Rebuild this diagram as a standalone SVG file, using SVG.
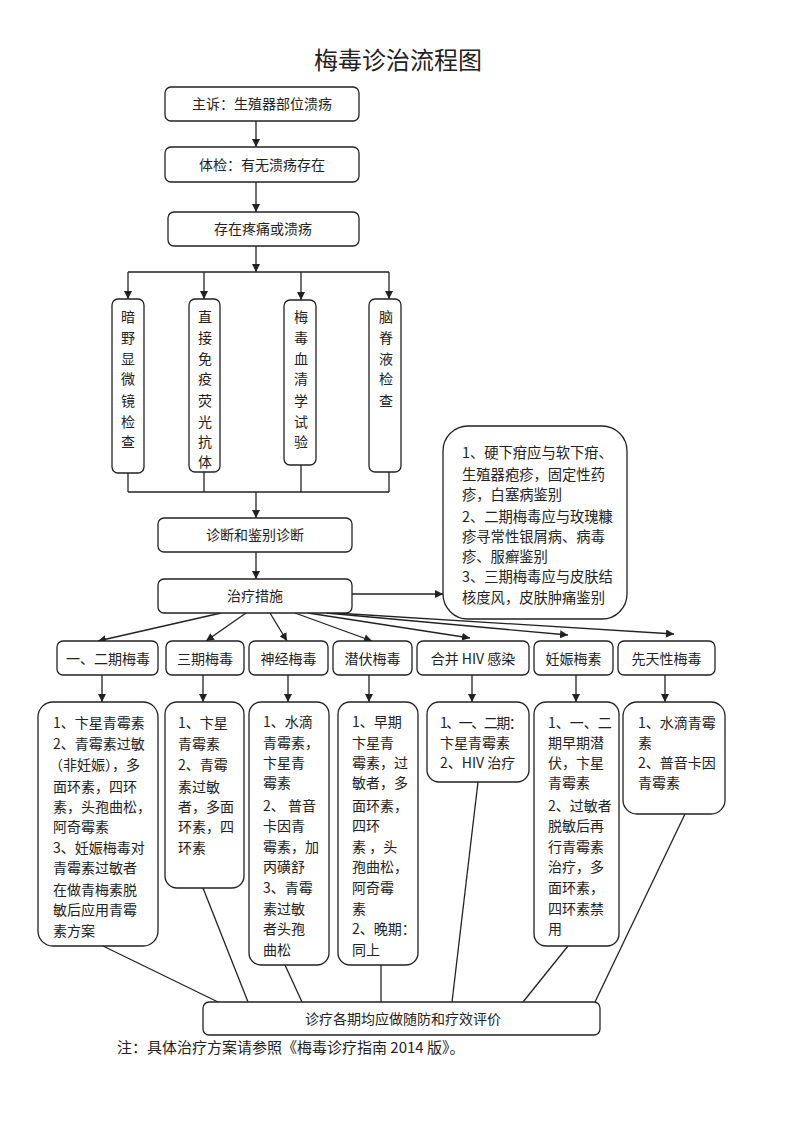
<svg xmlns="http://www.w3.org/2000/svg" width="793" height="1122" viewBox="0 0 793 1122">
<defs>
<style>
text{font-family:"Noto Sans CJK SC","Liberation Sans",sans-serif;font-size:14px;fill:#222}
.c{text-anchor:middle}
.t{font-size:24px}
.b{fill:#fff;stroke:#222;stroke-width:1.3}
.ln{fill:none;stroke:#222;stroke-width:1.3}
.ar{fill:none;stroke:#222;stroke-width:1.3;marker-end:url(#ah)}
</style>
<marker id="ah" viewBox="0 0 10 10" refX="10" refY="5" markerWidth="8" markerHeight="8" markerUnits="userSpaceOnUse" orient="auto">
<path d="M0,0 L10,5 L0,10 z" fill="#222"/>
</marker>
</defs>
<rect width="793" height="1122" fill="#fff"/>
<text class="c t" x="398" y="69">梅毒诊治流程图</text>

<g id="connectors">
<line class="ar" x1="256" y1="121" x2="256" y2="147"/>
<line class="ar" x1="256" y1="182" x2="256" y2="212"/>
<line class="ar" x1="256" y1="246" x2="256" y2="272"/>
<line class="ln" x1="128" y1="272" x2="389" y2="272"/>
<line class="ar" x1="128" y1="272" x2="128" y2="299"/>
<line class="ar" x1="204" y1="272" x2="204" y2="299"/>
<line class="ar" x1="301" y1="272" x2="301" y2="300"/>
<line class="ar" x1="389" y1="272" x2="389" y2="299"/>
<line class="ln" x1="128" y1="473" x2="128" y2="492"/>
<line class="ln" x1="204" y1="472" x2="204" y2="492"/>
<line class="ln" x1="301" y1="465" x2="301" y2="492"/>
<line class="ln" x1="389" y1="472" x2="389" y2="492"/>
<line class="ln" x1="128" y1="492" x2="389" y2="492"/>
<line class="ar" x1="256" y1="492" x2="256" y2="518"/>
<line class="ar" x1="256" y1="552" x2="256" y2="579"/>
<line class="ar" x1="352" y1="594" x2="443" y2="594"/>
<line class="ar" x1="221" y1="613" x2="98" y2="641"/>
<line class="ar" x1="246" y1="613" x2="206" y2="641"/>
<line class="ar" x1="270" y1="613" x2="287" y2="641"/>
<line class="ar" x1="295" y1="613" x2="372" y2="641"/>
<line class="ar" x1="308" y1="613" x2="470" y2="638"/>
<line class="ar" x1="326" y1="613" x2="568" y2="635"/>
<line class="ar" x1="335" y1="613" x2="674" y2="634"/>
<line class="ar" x1="102" y1="675" x2="102" y2="702"/>
<line class="ar" x1="203" y1="675" x2="203" y2="702"/>
<line class="ar" x1="288" y1="675" x2="288" y2="702"/>
<line class="ar" x1="369" y1="675" x2="369" y2="702"/>
<line class="ar" x1="472" y1="675" x2="472" y2="702"/>
<line class="ar" x1="576" y1="675" x2="576" y2="702"/>
<line class="ar" x1="665" y1="675" x2="665" y2="702"/>
<line class="ln" x1="103" y1="946" x2="218" y2="1002"/>
<line class="ln" x1="203" y1="888" x2="248" y2="1002"/>
<line class="ln" x1="285" y1="965" x2="302" y2="1002"/>
<line class="ln" x1="381" y1="965" x2="381" y2="1002"/>
<line class="ln" x1="478" y1="782" x2="452" y2="1002"/>
<line class="ln" x1="568" y1="946" x2="523" y2="1002"/>
<line class="ln" x1="685" y1="814" x2="595" y2="1002"/>
</g>

<g id="n-complaint"><rect class="b" x="165" y="87" width="194" height="34" rx="6"/><text class="c" x="262" y="109">主诉：生殖器部位溃疡</text></g>
<g id="n-exam"><rect class="b" x="165" y="147" width="194" height="35" rx="6"/><text class="c" x="262" y="170">体检：有无溃疡存在</text></g>
<g id="n-pain"><rect class="b" x="168" y="212" width="191" height="34" rx="6"/><text class="c" x="263" y="234">存在疼痛或溃疡</text></g>

<g id="n-darkfield"><rect class="b" x="112" y="299" width="32" height="174" rx="6"/>
<text class="c" x="128"><tspan x="128" y="322">暗</tspan><tspan x="128" y="343">野</tspan><tspan x="128" y="364">显</tspan><tspan x="128" y="384">微</tspan><tspan x="128" y="406">镜</tspan><tspan x="128" y="427">检</tspan><tspan x="128" y="447">查</tspan></text></g>
<g id="n-dfa"><rect class="b" x="189" y="299" width="31" height="173" rx="6"/>
<text class="c" x="205"><tspan x="205" y="322">直</tspan><tspan x="205" y="343">接</tspan><tspan x="205" y="364">免</tspan><tspan x="205" y="384">疫</tspan><tspan x="205" y="406">荧</tspan><tspan x="205" y="427">光</tspan><tspan x="205" y="447">抗</tspan><tspan x="205" y="467">体</tspan></text></g>
<g id="n-serology"><rect class="b" x="284" y="300" width="32" height="165" rx="6"/>
<text class="c" x="301"><tspan x="301" y="322">梅</tspan><tspan x="301" y="343">毒</tspan><tspan x="301" y="364">血</tspan><tspan x="301" y="384">清</tspan><tspan x="301" y="406">学</tspan><tspan x="301" y="427">试</tspan><tspan x="301" y="447">验</tspan></text></g>
<g id="n-csf"><rect class="b" x="369" y="299" width="32" height="173" rx="6"/>
<text class="c" x="386"><tspan x="386" y="322">脑</tspan><tspan x="386" y="343">脊</tspan><tspan x="386" y="364">液</tspan><tspan x="386" y="384">检</tspan><tspan x="386" y="406">查</tspan></text></g>

<g id="n-diagnosis"><rect class="b" x="158" y="518" width="194" height="34" rx="6"/><text class="c" x="255" y="540">诊断和鉴别诊断</text></g>
<g id="n-treatment"><rect class="b" x="158" y="579" width="194" height="34" rx="6"/><text class="c" x="255" y="601">治疗措施</text></g>

<g id="n-differential"><rect class="b" x="443" y="426" width="184" height="193" rx="25"/>
<text style="font-size:14.3px"><tspan x="462" y="458">1、硬下疳应与软下疳、</tspan><tspan x="462" y="480">生殖器疱疹，固定性药</tspan><tspan x="462" y="500">疹，白塞病鉴别</tspan><tspan x="462" y="522">2、二期梅毒应与玫瑰糠</tspan><tspan x="462" y="542">疹寻常性银屑病、病毒</tspan><tspan x="462" y="562">疹、服癣鉴别</tspan><tspan x="462" y="582">3、三期梅毒应与皮肤结</tspan><tspan x="462" y="603">核度风，皮肤肿痛鉴别</tspan></text></g>

<g id="n-c1"><rect class="b" x="57" y="641" width="101" height="34" rx="6"/><text class="c" x="108" y="664">一、二期梅毒</text></g>
<g id="n-c2"><rect class="b" x="166" y="641" width="78" height="34" rx="6"/><text class="c" x="205" y="664">三期梅毒</text></g>
<g id="n-c3"><rect class="b" x="249" y="641" width="79" height="34" rx="6"/><text class="c" x="288.5" y="664">神经梅毒</text></g>
<g id="n-c4"><rect class="b" x="333" y="641" width="79" height="34" rx="6"/><text class="c" x="372.5" y="664">潜伏梅毒</text></g>
<g id="n-c5"><rect class="b" x="417" y="641" width="112" height="34" rx="6"/><text class="c" x="473" y="664">合并 HIV 感染</text></g>
<g id="n-c6"><rect class="b" x="534" y="641" width="79" height="34" rx="6"/><text class="c" x="573.5" y="664">妊娠梅素</text></g>
<g id="n-c7"><rect class="b" x="618" y="641" width="97" height="34" rx="6"/><text class="c" x="666.5" y="664">先天性梅毒</text></g>

<g id="n-d1"><rect class="b" x="38" y="702" width="120" height="244" rx="15"/>
<text><tspan x="53" y="728">1、卞星青霉素</tspan><tspan x="53" y="749">2、青霉素过敏</tspan><tspan x="49" y="770">（非妊娠），多</tspan><tspan x="53" y="792">面环素，四环</tspan><tspan x="53" y="812">素，头孢曲松，</tspan><tspan x="53" y="832">阿奇霉素</tspan><tspan x="53" y="853">3、妊娠梅毒对</tspan><tspan x="53" y="873">青霉素过敏者</tspan><tspan x="53" y="895">在做青梅素脱</tspan><tspan x="53" y="915">敏后应用青霉</tspan><tspan x="53" y="936">素方案</tspan></text></g>
<g id="n-d2"><rect class="b" x="165" y="702" width="79" height="186" rx="12"/>
<text><tspan x="178" y="728">1、卞星</tspan><tspan x="178" y="749">青霉素</tspan><tspan x="178" y="770">2、青霉</tspan><tspan x="178" y="792">素过敏</tspan><tspan x="178" y="812">者，多面</tspan><tspan x="178" y="832">环素，四</tspan><tspan x="178" y="853">环素</tspan></text></g>
<g id="n-d3"><rect class="b" x="249" y="702" width="80" height="263" rx="12"/>
<text><tspan x="263" y="727">1、水滴</tspan><tspan x="263" y="748">青霉素，</tspan><tspan x="263" y="768">卞星青</tspan><tspan x="263" y="788">霉素</tspan><tspan x="263" y="811">2、 普音</tspan><tspan x="263" y="831">卡因青</tspan><tspan x="263" y="852">霉素，加</tspan><tspan x="263" y="872">丙磺舒</tspan><tspan x="263" y="893">3、青霉</tspan><tspan x="263" y="914">素过敏</tspan><tspan x="263" y="934">者头孢</tspan><tspan x="263" y="955">曲松</tspan></text></g>
<g id="n-d4"><rect class="b" x="338" y="702" width="80" height="263" rx="12"/>
<text><tspan x="352" y="727">1、早期</tspan><tspan x="352" y="748">卞星青</tspan><tspan x="352" y="768">霉素，过</tspan><tspan x="352" y="788">敏者，多</tspan><tspan x="352" y="811">面环素，</tspan><tspan x="352" y="831">四环</tspan><tspan x="352" y="852">素 ，头</tspan><tspan x="352" y="872">孢曲松，</tspan><tspan x="352" y="893">阿奇霉</tspan><tspan x="352" y="914">素</tspan><tspan x="352" y="934">2、晚期：</tspan><tspan x="352" y="955">同上</tspan></text></g>
<g id="n-d5"><rect class="b" x="427" y="702" width="102" height="80" rx="12"/>
<text><tspan x="440" y="728" style="letter-spacing:-1.5px">1、一、二期：</tspan><tspan x="440" y="748">卞星青霉素</tspan><tspan x="440" y="768">2、HIV 治疗</tspan></text></g>
<g id="n-d6"><rect class="b" x="534" y="702" width="85" height="244" rx="12"/>
<text><tspan x="548" y="728">1、一、二</tspan><tspan x="548" y="748">期早期潜</tspan><tspan x="548" y="768">伏，卞星</tspan><tspan x="548" y="788">青霉素</tspan><tspan x="548" y="811">2、过敏者</tspan><tspan x="548" y="831">脱敏后再</tspan><tspan x="548" y="852">行青霉素</tspan><tspan x="548" y="872">治疗，多</tspan><tspan x="548" y="893">面环素，</tspan><tspan x="548" y="914">四环素禁</tspan><tspan x="548" y="934">用</tspan></text></g>
<g id="n-d7"><rect class="b" x="623" y="702" width="102" height="112" rx="14"/>
<text><tspan x="638" y="728">1、水滴青霉</tspan><tspan x="638" y="748">素</tspan><tspan x="638" y="768">2、普音卡因</tspan><tspan x="638" y="788">青霉素</tspan></text></g>

<g id="n-followup"><rect class="b" x="203" y="1002" width="397" height="33" rx="6"/><text class="c" x="403" y="1024">诊疗各期均应做随防和疗效评价</text></g>
<text x="117" y="1053" style="font-size:15px">注：具体治疗方案请参照《梅毒诊疗指南 2014 版》。</text>
</svg>
